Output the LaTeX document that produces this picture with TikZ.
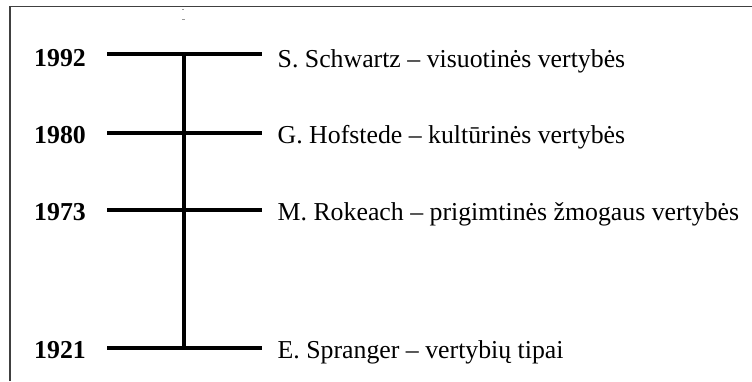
\documentclass[tikz,border=0pt]{standalone}
\usepackage{fontspec}
\setmainfont{Liberation Serif}
\begin{document}
\begin{tikzpicture}[x=1pt,y=-1pt,
  bar/.style={line width=4pt,black},
  yearlbl/.style={anchor=base east,inner sep=0pt,font=\fontsize{25.8}{30}\selectfont\bfseries},
  entry/.style={anchor=base west,inner sep=0pt,font=\fontsize{25.8}{30}\selectfont},
  frameline/.style={line width=1.6pt,draw=black!75},
  speck/.style={fill=black!40}]
\useasboundingbox (0,0) rectangle (752,381);

% partial frame (top and left edges)
\draw[frameline] (10,381) -- (10,6.5) -- (752,6.5);
\fill[speck] (182,8.5) rectangle (184,10);
\fill[speck] (181.5,18.5) rectangle (184.5,20);

% tick ends on each timeline row
\coordinate (a1) at (107,53.5);  \coordinate (b1) at (262,53.5);  \coordinate (m1) at (184,53.5);
\coordinate (a2) at (107,132.5); \coordinate (b2) at (262,132.5); \coordinate (m2) at (184,132.5);
\coordinate (a3) at (107,210);   \coordinate (b3) at (262,210);   \coordinate (m3) at (184,210);
\coordinate (a4) at (107,347.5); \coordinate (b4) at (262,347.5); \coordinate (m4) at (184,347.5);

% years
\node[yearlbl] (y1) at (86,66.7) {1992};
\node[yearlbl] (y2) at (86,143.3) {1980};
\node[yearlbl] (y3) at (86,220.7) {1973};
\node[yearlbl] (y4) at (86,358) {1921};

% authors and value types
\node[entry] (t1) at (277.5,67) {S. Schwartz – visuotinės vertybės};
\node[entry] (t2) at (277.5,143.3) {G. Hofstede – kultūrinės vertybės};
\node[entry] (t3) at (277.5,220.7) {M. Rokeach – prigimtinės žmogaus vertybės};
\node[entry] (t4) at (277.5,358) {E. Spranger – vertybių tipai};

% timeline
\draw[bar] (m1) -- (m4);
\draw[bar] (a1) -- (b1);
\draw[bar] (a2) -- (b2);
\draw[bar] (a3) -- (b3);
\draw[bar] (a4) -- (b4);
\end{tikzpicture}
\end{document}
